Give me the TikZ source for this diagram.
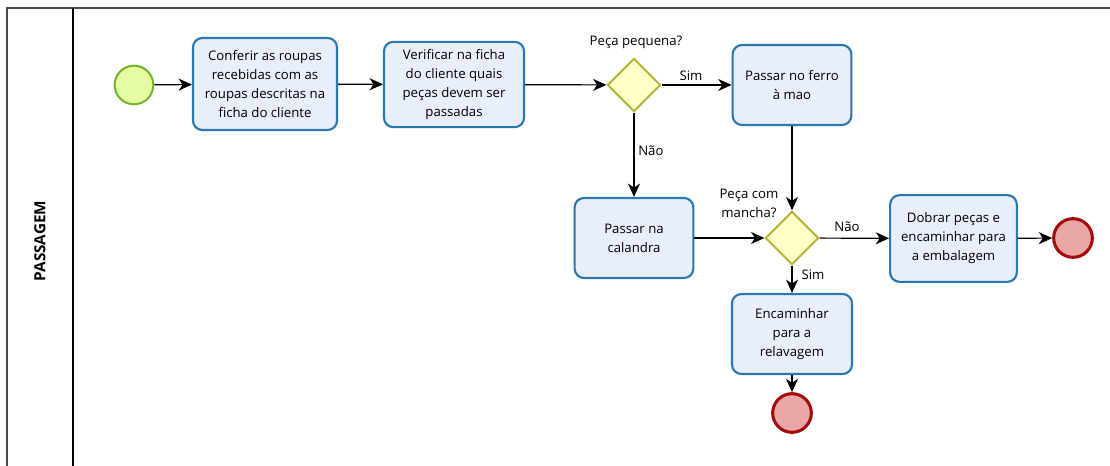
\documentclass[tikz,border=0pt]{standalone}
\usepackage{fontspec}
\setmainfont{Open Sans}
\usetikzlibrary{shapes.geometric,arrows.meta}
\definecolor{taskfill}{HTML}{E9EEFC}
\definecolor{taskline}{HTML}{2A78AE}
\definecolor{gwfill}{HTML}{FFFFC6}
\definecolor{gwline}{HTML}{B3B33A}
\definecolor{startfill}{HTML}{E6FCA2}
\definecolor{startline}{HTML}{72B52A}
\definecolor{endfill}{HTML}{EBA6A6}
\definecolor{endline}{HTML}{A20C0C}
\definecolor{frameline}{HTML}{4A4A4A}
\tikzset{
  task/.style={draw=taskline, fill=taskfill, line width=1.6pt, rounded corners=7pt,
    align=center, inner sep=2pt, font=\fontsize{9.9}{14.2}\selectfont},
  gateway/.style={diamond, draw=gwline, fill=gwfill, line width=1.5pt,
    minimum width=40pt, minimum height=40pt, inner sep=0pt, aspect=1},
  startev/.style={circle, draw=startline, fill=startfill, line width=1.5pt,
    minimum size=29pt, inner sep=0pt},
  endev/.style={circle, draw=endline, fill=endfill, line width=2.3pt,
    minimum size=29pt, inner sep=0pt},
  flow/.style={draw=black, line width=0.9pt, -{Stealth[length=10pt,width=9pt,inset=3pt]}},
  lbl/.style={font=\fontsize{9.9}{14.2}\selectfont, inner sep=0pt, align=center},
}
\begin{document}
\begin{tikzpicture}[x=0.75pt,y=-0.75pt]
  \useasboundingbox (0,0) rectangle (1110,466);
  \fill[white] (0,0) rectangle (1110,466);
  % pool frame and lane header
  \begin{scope}
    \clip (0,0) rectangle (1110,466);
    \draw[frameline, line width=1.2pt] (7,475) -- (7,8) -- (1120,8);
    \draw[black, line width=1pt] (73,8) -- (73,475);
  \end{scope}
  \node[rotate=90, font=\bfseries\fontsize{11.5}{13}\selectfont] (lane) at (40,241) {PASSAGEM};

  % events, tasks and gateways
  \node[startev] (start) at (134,85) {};
  \node[task, minimum width=108pt, minimum height=69pt] (t1) at (265,84)
    {Conferir as roupas\\recebidas com as\\roupas descritas na\\ficha do cliente};
  \node[task, minimum width=105pt, minimum height=64pt] (t2) at (454,84.5)
    {Verificar na ficha\\do cliente quais\\peças devem ser\\passadas};
  \node[gateway] (g1) at (634,85) {};
  \node[task, minimum width=89pt, minimum height=60pt] (t3) at (792,85)
    {Passar no ferro\\à mao};
  \node[task, minimum width=89pt, minimum height=60pt] (t4) at (634,238)
    {Passar na\\calandra};
  \node[gateway] (g2) at (792,238) {};
  \node[task, minimum width=95pt, minimum height=65pt] (t5) at (953.5,238.5)
    {Dobrar peças e\\encaminhar para\\a embalagem};
  \node[endev] (end1) at (1073,238) {};
  \node[task, minimum width=90pt, minimum height=60pt] (t6) at (792,334)
    {Encaminhar\\para a\\relavagem};
  \node[endev] (end2) at (792,413) {};

  % gateway and flow labels
  \node[lbl] (q1) at (636,42) {Peça pequena?};
  \node[lbl] (q2) at (749,203) {Peça com\\mancha?};
  \node[lbl] (sim1) at (691,76) {Sim};
  \node[lbl, anchor=west] (nao1) at (638,151) {Não};
  \node[lbl] (nao2) at (847,227) {Não};
  \node[lbl] (sim2) at (813,275) {Sim};

  % sequence flows
  \draw[flow] (start) -- (t1);
  \draw[flow] (t1) -- (t2);
  \draw[flow] (t2) -- (g1);
  \draw[flow] (g1) -- (t3);
  \draw[flow] (g1) -- (t4);
  \draw[flow] (t3) -- (g2);
  \draw[flow] (t4) -- (g2);
  \draw[flow] (g2) -- (t5);
  \draw[flow] (g2) -- (t6);
  \draw[flow] (t5) -- (end1);
  \draw[flow] (t6) -- (end2);
\end{tikzpicture}
\end{document}
